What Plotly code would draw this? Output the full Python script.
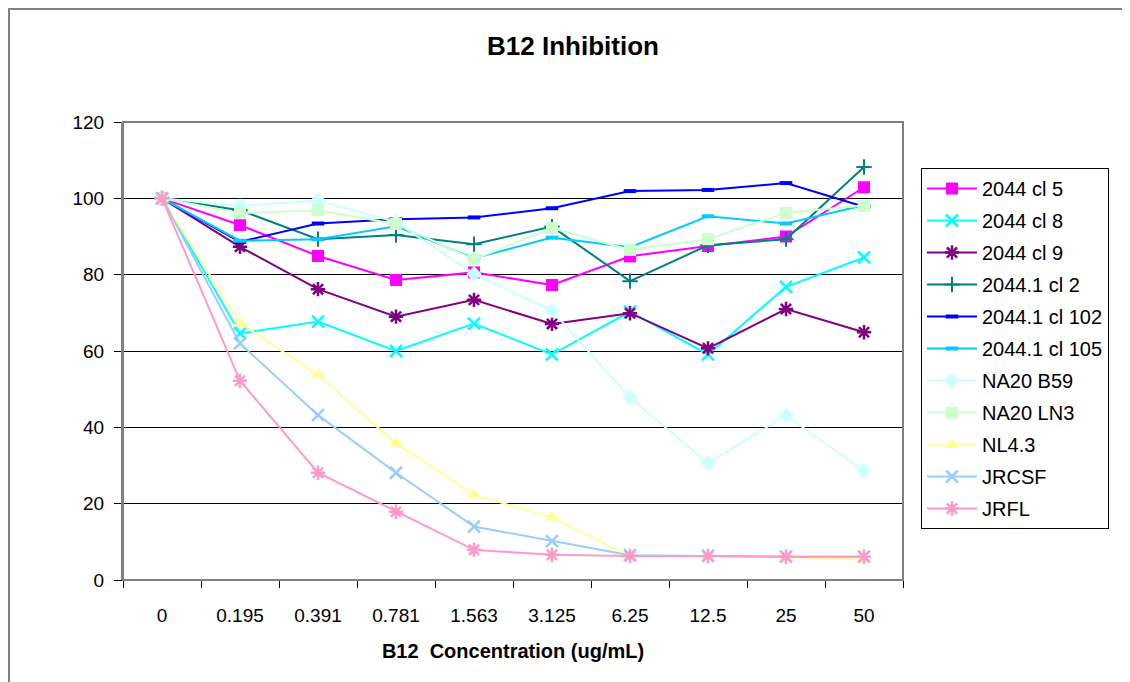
import plotly.graph_objects as go

concentrations = ["0", "0.195", "0.391", "0.781", "1.563", "3.125", "6.25", "12.5", "25", "50"]

cl5 = [100, 93.0, 84.9, 78.6, 80.6, 77.3, 84.8, 87.5, 90.0, 102.9]
cl8 = [100, 64.6, 67.7, 60.0, 67.2, 59.1, 70.3, 59.1, 76.8, 84.5]
cl9 = [100, 87.3, 76.2, 69.0, 73.4, 67.1, 69.9, 60.7, 71.0, 64.9]
cl2_1 = [100, 96.9, 89.3, 90.4, 88.0, 92.6, 78.3, 87.7, 89.3, 108.2]
cl102_1 = [100, 88.6, 93.4, 94.5, 95.0, 97.4, 101.9, 102.2, 104.0, 97.8]
cl105_1 = [100, 88.9, 89.3, 92.7, 84.3, 89.7, 87.2, 95.3, 93.4, 98.2]
b59 = [100, 98.0, 99.4, 93.8, 80.2, 70.6, 47.8, 30.6, 43.1, 28.6]
ln3 = [100, 96.1, 96.9, 93.3, 84.0, 92.2, 86.5, 89.3, 96.2, 98.1]
nl43 = [100, 67.3, 53.7, 35.8, 22.3, 16.4, 6.2, 6.2, 6.0, 5.4]
jrcsf = [100, 62.0, 43.2, 28.1, 14.0, 10.2, 6.5, 6.3, 6.1, 6.1]
jrfl = [100, 52.2, 28.1, 17.9, 7.9, 6.6, 6.3, 6.3, 6.1, 6.1]

series = [
    ("2044 cl 5", cl5, "#FF00FF", "square", 12, 1),
    ("2044 cl 8", cl8, "#00FFFF", "x-thin-open", 12, 2.5),
    ("2044 cl 9", cl9, "#800080", "asterisk-open", 12, 2.5),
    ("2044.1 cl 2", cl2_1, "#008080", "cross-thin-open", 11, 2),
    ("2044.1 cl 102", cl102_1, "#0000FF", "line-ew-open", 9, 4),
    ("2044.1 cl 105", cl105_1, "#00CCFF", "line-ew-open", 9, 4),
    ("NA20 B59", b59, "#CCFFFF", "diamond", 12, 1),
    ("NA20 LN3", ln3, "#CCFFCC", "square", 12, 1),
    ("NL4.3", nl43, "#FFFF99", "triangle-up", 13, 1),
    ("JRCSF", jrcsf, "#99CCFF", "x-thin-open", 12, 2.5),
    ("JRFL", jrfl, "#FF99CC", "asterisk-open", 12, 2.5),
]

fig = go.Figure()
for name, vals, color, sym, size, lw in series:
    fig.add_trace(go.Scatter(
        x=concentrations, y=vals, name=name, mode="lines+markers",
        legendgroup=name,
        line=dict(color=color, width=2),
        marker=dict(symbol=sym, size=size, color=color,
                    line=dict(color=color, width=lw if "open" in sym else 0)),
    ))

font_family = "Liberation Sans, Arial, sans-serif"

W, H = 1122, 674
L, R, T, B = 115, 227, 114, 102
pw = W - L - R
ph = H - T - B

fig.update_layout(
    width=W, height=H,
    margin=dict(l=L, r=R, t=T, b=B),
    paper_bgcolor="white", plot_bgcolor="white",
    font=dict(family=font_family, size=19, color="black"),
    title=dict(text="<b>B12 Inhibition</b>", x=565 / W, xanchor="center",
               y=1 - 38 / H, yanchor="middle", font=dict(size=26)),
    showlegend=True,
    legend=dict(x=(913 - L) / pw, y=(T + ph - 160) / ph, xanchor="left", yanchor="top",
                bordercolor="black", borderwidth=1, bgcolor="white",
                font=dict(size=20), tracegroupgap=3, itemwidth=50),
    xaxis=dict(type="category", categoryorder="array", categoryarray=concentrations,
               range=[-0.5, len(concentrations) - 0.5],
               showgrid=False, ticks="outside", tickson="boundaries", ticklen=7,
               tickcolor="black", showline=True, linecolor="black", linewidth=1,
               ticklabelstandoff=18,
               title=dict(text="<b>B12&nbsp;&nbsp;Concentration (ug/mL)</b>", standoff=19,
                          font=dict(size=20)),
               zeroline=False),
    yaxis=dict(range=[0, 120], dtick=20, showgrid=True, gridcolor="black", gridwidth=1,
               ticks="outside", ticklen=7, tickcolor="black",
               showline=True, linecolor="#808080", linewidth=2,
               ticklabelstandoff=6, zeroline=False),
)

# plot-area border
fig.add_shape(type="rect", xref="paper", yref="paper", x0=0, x1=1, y0=0, y1=1,
              line=dict(color="#808080", width=2), layer="above")
# outer chart border (top and left visible)
fig.add_shape(type="rect", xref="paper", yref="paper",
              x0=(1 - L) / pw, x1=(W + 20 - L) / pw,
              y0=(T + ph - H - 20) / ph, y1=(T + ph - 1) / ph,
              line=dict(color="#808080", width=2), layer="below")

fig.write_html("out.html")
